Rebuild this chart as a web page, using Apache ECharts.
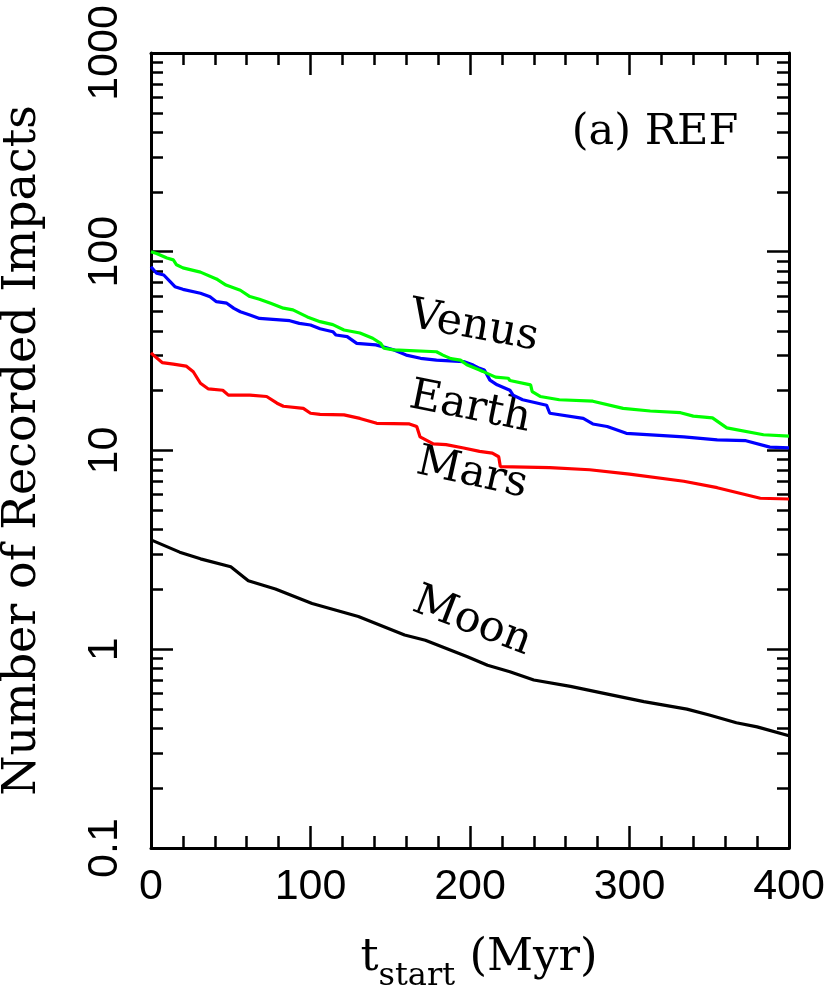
<!DOCTYPE html>
<html>
<head>
<meta charset="utf-8">
<script src="https://cdn.jsdelivr.net/npm/echarts@6/dist/echarts.min.js"></script>
<style>
  html, body { margin: 0; padding: 0; background: #fff; }
  #chart { width: 830px; height: 988px; }
</style>
</head>
<body>
<div id="chart"></div>
<script>
/* data: [t_start (Myr), number of recorded impacts] */
const VENUS = [
  [0,100],[3.5,98],[10,93],[14,91],[16,86],[20,83],[31,79],[41,73],[47,68],[56,64],
  [62,59.5],[68,57.7],[75,55],[83,52],[89,51],[98,47],[106,44.5],[114,43],[121,40.4],
  [131,39],[139,36.7],[144,34.6],[146,32.7],[152,32.1],[179,31.4],[183,30.2],[188,29],
  [194,28.5],[198,27],[206,25.4],[208,25],[216,23.4],[224,23.1],[225,22.5],[238,21.4],
  [239,19.8],[244,18.7],[256,18],[277,17.7],[296,16.3],[313,15.8],[332,15.5],[340,14.9],
  [352,14.6],[361,13],[384,12],[400,11.8]
]
const EARTH = [
  [0,84],[3.5,78],[8,76.4],[12,70.7],[15,66.7],[20,64.7],[31,61.8],[37,59.4],[41,56.1],
  [47.5,55.1],[52,51.9],[56,49.9],[62,48.1],[68,46.2],[87,45],[93,43.6],[100,42.8],
  [106,41],[114,39.6],[116,38.1],[123,37.4],[129,34.6],[141,34],[152,32.1],[160,30.2],
  [169,29.1],[179,28.5],[196,28],[202,26.9],[206,25.9],[209,25.4],[212.5,22.6],[217,21.4],
  [225,20.1],[227,19],[233,18],[248,16.9],[250,15.4],[271,14.5],[277,13.6],[286,13.2],
  [298,12.2],[334,11.7],[355,11.3],[373,11.2],[388,10.4],[400,10.3]
]
const MARS = [
  [0,31],[1.5,30.2],[7,27.7],[14,27.2],[22,26.6],[26.5,24.9],[31,21.8],[36,20.4],
  [45,20.1],[48.5,19],[62,19],[72.5,18.7],[79,17.3],[83,16.7],[95.5,16.3],[100,15.4],
  [106,15.2],[121,15.1],[131,14.5],[141.5,13.7],[162,13.6],[166.6,13.2],[168.7,11.7],
  [177,10.8],[185,10.7],[196,10.3],[206,9.9],[214,9.7],[218,9.3],[219,8.3],[250,8.2],
  [275,8.0],[300,7.6],[334,7.0],[355,6.5],[382,5.75],[400,5.7]
]
const MOON = [
  [0,3.55],[18,3.08],[31,2.85],[50,2.6],[61,2.21],[78,2.01],[101,1.70],[130,1.46],
  [159,1.18],[172,1.11],[198,0.92],[211,0.83],[225,0.77],[240,0.70],[263,0.65],
  [284,0.60],[309,0.545],[336,0.50],[350,0.467],[367,0.427],[380,0.407],[400,0.367]
]

const NAMES  = ['Venus', 'Earth', 'Mars', 'Moon']
const COLORS = ['#00ff00', '#0000ff', '#ff0000', '#000000']
const SERIES_DATA = [VENUS, EARTH, MARS, MOON]

// minor ticks of the log axis: 2..9 in each decade
const MINOR_Y = []
for (let d = 0.1; d < 1000; d *= 10) {
  for (let k = 2; k <= 9; k++) MINOR_Y.push(+(k * d).toPrecision(3))
}

const SANS  = 'Liberation Sans'
const SERIF = 'DejaVu Serif'
const AX = { color: '#000', width: 3 }

function logAxis(position, major, withLabels) {
  return {
    type: 'log', logBase: 10, min: 0.1, max: 1000, position,
    axisLine: { show: major, onZero: false, lineStyle: AX },
    axisTick: major
      ? { inside: true, length: 22, lineStyle: { color: '#000', width: 2.5 } }
      : { inside: true, length: 12, customValues: MINOR_Y, lineStyle: { color: '#000', width: 2.5 } },
    axisLabel: withLabels
      ? { rotate: 90, margin: 24, color: '#000', fontFamily: SANS, fontSize: 43,
          formatter: v => String(+v.toPrecision(3)) }
      : { show: false },
    splitLine: { show: false },
  }
}

const chart = echarts.init(document.getElementById('chart'))
chart.setOption({
  animation: false,
  backgroundColor: '#fff',
  grid: { left: 151, right: 41, top: 53, bottom: 140, outerBoundsMode: 'none', containLabel: false },
  xAxis: [0, 1].map(i => ({
    type: 'value', min: 0, max: 400, interval: 100,
    position: i === 0 ? 'bottom' : 'top',
    axisLine: { onZero: false, lineStyle: AX },
    axisTick: { inside: true, length: 22, lineStyle: { color: '#000', width: 2.5 } },
    minorTick: { show: true, splitNumber: 5, length: 12, lineStyle: { color: '#000', width: 2.5 } },
    axisLabel: i === 0
      ? { margin: 18, color: '#000', fontFamily: SANS, fontSize: 43 }
      : { show: false },
    splitLine: { show: false },
    name: i === 0 ? '{t|t}{s|start}{t| (Myr)}' : '',
    nameLocation: 'middle',
    nameGap: 88,
    nameTextStyle: {
      padding: [0, 0, 0, 18],
      rich: {
        t: { fontFamily: SERIF, fontSize: 45, lineHeight: 52, color: '#000', verticalAlign: 'top' },
        s: { fontFamily: SERIF, fontSize: 32, lineHeight: 32, color: '#000', verticalAlign: 'top', padding: [25, 0, 0, 0] },
      },
    },
  })),
  yAxis: [
    Object.assign(logAxis('left', true, true), {
      name: 'Number of Recorded Impacts',
      nameLocation: 'middle', nameRotate: 90, nameGap: 105,
      nameTextStyle: { fontFamily: SERIF, fontSize: 46, color: '#000' },
    }),
    logAxis('left', false, false),
    logAxis('right', true, false),
    logAxis('right', false, false),
  ],
  series: SERIES_DATA.map((d, i) => ({
    name: NAMES[i], type: 'line', data: d,
    showSymbol: false, symbol: 'none',
    lineStyle: { color: COLORS[i], width: 3.2 },
    z: 10 - i,
  })),
  graphic: [
    { type: 'text', x: 655, y: 133, style: { text: '(a) REF', font: '43px "DejaVu Serif"', fill: '#000', textAlign: 'center', textVerticalAlign: 'middle' } },
    { type: 'text', x: 474, y: 327, rotation: -0.18, style: { text: 'Venus', font: '43px "DejaVu Serif"', fill: '#000', textAlign: 'center', textVerticalAlign: 'middle' } },
    { type: 'text', x: 470, y: 408, rotation: -0.2, style: { text: 'Earth', font: '43px "DejaVu Serif"', fill: '#000', textAlign: 'center', textVerticalAlign: 'middle' } },
    { type: 'text', x: 472, y: 474, rotation: -0.22, style: { text: 'Mars', font: '43px "DejaVu Serif"', fill: '#000', textAlign: 'center', textVerticalAlign: 'middle' } },
    { type: 'text', x: 472, y: 622, rotation: -0.37, style: { text: 'Moon', font: '43px "DejaVu Serif"', fill: '#000', textAlign: 'center', textVerticalAlign: 'middle' } },
  ],
})
</script>
</body>
</html>
